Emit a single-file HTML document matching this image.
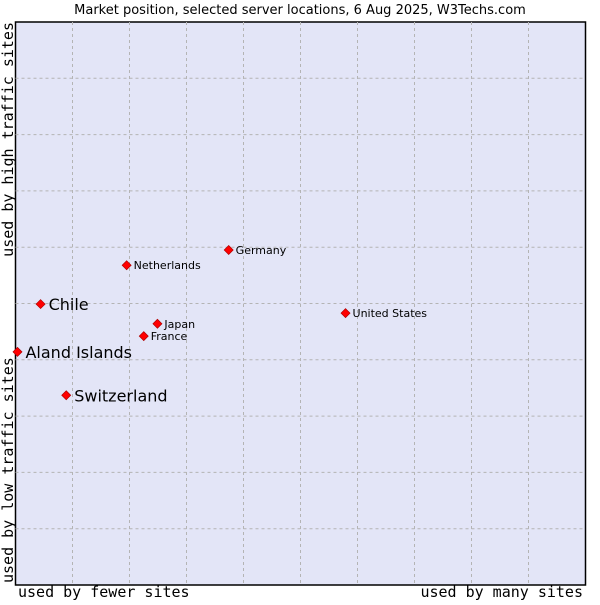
<!DOCTYPE html>
<html><head><meta charset="utf-8"><style>
body{margin:0;background:#fff;width:600px;height:600px;overflow:hidden}
svg text{font-family:"DejaVu Sans","Liberation Sans",sans-serif}
.mono{font-family:"DejaVu Sans Mono","Liberation Mono",monospace}
</style></head><body>
<svg id="chart" width="600" height="600" xmlns="http://www.w3.org/2000/svg">
<text x="300" y="14" font-size="13" text-anchor="middle" fill="#000">Market position, selected server locations, 6 Aug 2025, W3Techs.com</text>
<rect x="15.5" y="22" width="570" height="563" fill="#e3e5f7" stroke="#000" stroke-width="1.5"/>
<g id="grid"></g>
<text class="mono" x="18" y="597" font-size="15">used by fewer sites</text>
<text class="mono" x="583" y="597" font-size="15" text-anchor="end">used by many sites</text>
<text class="mono" transform="translate(13,22) rotate(-90)" font-size="15" text-anchor="end">used by high traffic sites</text>
<text class="mono" transform="translate(13,583) rotate(-90)" font-size="15">used by low traffic sites</text>
<g id="points"></g>
</svg>
<script>
const locations=["Aland Islands","Chile","Switzerland","Netherlands","Germany","Japan","France","United States"];
const usageShare=[0.35,4.4,8.9,19.5,37.4,24.9,22.5,57.9];
const trafficScore=[41.4,49.9,33.7,56.8,59.5,46.4,44.2,48.3];
const highlighted=[true,true,true,false,false,false,false,false];
const NS="http://www.w3.org/2000/svg";
const X0=15.5,X1=585.5,Y0=585,Y1=22;
const xs=v=>X0+(X1-X0)*v/100, ys=v=>Y0-(Y0-Y1)*v/100;
const grid=document.getElementById('grid');
for(let i=1;i<10;i++){
 const a=document.createElementNS(NS,'line');
 
 
 a.setAttribute('x1',xs(i*10));a.setAttribute('x2',xs(i*10));a.setAttribute('y1',Y1);a.setAttribute('y2',Y0);
 a.setAttribute('stroke','#b4b4b4');a.setAttribute('stroke-dasharray','3,3');grid.appendChild(a);
 const b=document.createElementNS(NS,'line');
 
 
 b.setAttribute('y1',ys(i*10));b.setAttribute('y2',ys(i*10));b.setAttribute('x1',X0);b.setAttribute('x2',X1);
 b.setAttribute('stroke','#b4b4b4');b.setAttribute('stroke-dasharray','3,3');grid.appendChild(b);
}
const pts=document.getElementById('points');
locations.forEach((n,i)=>{
 const x=xs(usageShare[i]),y=ys(trafficScore[i]);
 const p=document.createElementNS(NS,'polygon');
 
 
 p.setAttribute('points',`${x},${y-4.5} ${x+4.5},${y} ${x},${y+4.5} ${x-4.5},${y}`);
 p.setAttribute('fill','#ff0000');p.setAttribute('stroke','#b00000');p.setAttribute('stroke-width','0.7');
 pts.appendChild(p);
 const t=document.createElementNS(NS,'text');
 
 
 const big=highlighted[i];
 t.setAttribute('x',x+(big?8:7));t.setAttribute('y',y+(big?6:4));
 t.setAttribute('font-size',big?16:11);
 t.textContent=n;pts.appendChild(t);
});
</script>
</body></html>
